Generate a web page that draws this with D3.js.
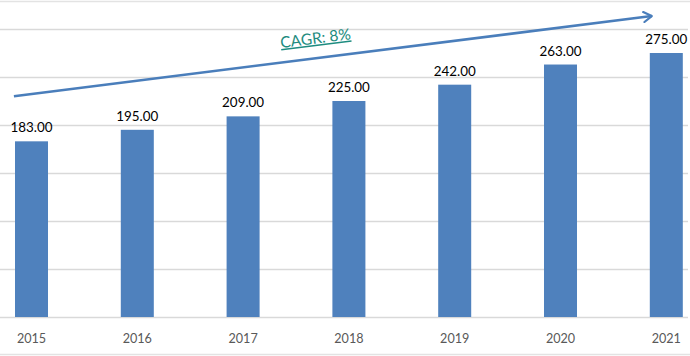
<!DOCTYPE html>
<html>
<head>
<meta charset="utf-8">
<script src="https://cdn.jsdelivr.net/npm/d3@7"></script>
<style>
  html, body { margin: 0; padding: 0; background: #fff; }
  svg { display: block; }
</style>
</head>
<body>
<svg id="chart" width="690" height="356"></svg>
<script>
const years = ["2015", "2016", "2017", "2018", "2019", "2020", "2021"];
const values = [183, 195, 209, 225, 242, 263, 275];
const gridTicks = [0, 50, 100, 150, 200, 250, 300];
const cagrLabel = "CAGR: 8%";
// trend arrow annotation endpoints, in data space (category, offset in steps from bar centre, value)
const arrowStart = { idx: 0, offset: -0.166, value: 230 };
const arrowEnd = { idx: 6, offset: -0.128, value: 313.5 };

const W = 690, H = 356;
const svg = d3.select("#chart");

const x = d3.scaleBand()
  .domain(years)
  .range([-21.4, 719.2])
  .paddingInner(0.688)
  .paddingOuter(0.344);

const y = d3.scaleLinear().domain([0, 300]).range([317, 29]);

const gridColor = "#D9D9D9";

// frame lines
svg.append("line").attr("x1", 0).attr("x2", W).attr("y1", 1.5).attr("y2", 1.5)
  .attr("stroke", "#E3E3E3").attr("stroke-width", 1.5);
svg.append("line").attr("x1", 0).attr("x2", W).attr("y1", 354.5).attr("y2", 354.5)
  .attr("stroke", "#E3E3E3").attr("stroke-width", 1.5);

// gridlines
svg.append("g").selectAll("line").data(gridTicks).join("line")
  .attr("x1", 0).attr("x2", 688)
  .attr("y1", d => Math.round(y(d)) + 0.5)
  .attr("y2", d => Math.round(y(d)) + 0.5)
  .attr("stroke", gridColor).attr("stroke-width", 1.3);

// bars
svg.append("g").selectAll("rect").data(values).join("rect")
  .attr("x", (d, i) => x(years[i]))
  .attr("width", x.bandwidth())
  .attr("y", d => y(d))
  .attr("height", d => y(0) - y(d))
  .attr("fill", "#4F81BD");

// value labels
svg.append("g").selectAll("text").data(values).join("text")
  .attr("x", (d, i) => x(years[i]) + x.bandwidth() / 2)
  .attr("y", d => y(d) - 9)
  .attr("text-anchor", "middle")
  .attr("font-family", "Lato, 'Open Sans', sans-serif")
  .attr("font-size", 13.4)
  .attr("fill", "#000")
  .text(d => d.toFixed(2));

// x axis labels
const xAxis = d3.axisBottom(x).tickSize(0).tickPadding(0);
const gx = svg.append("g").attr("transform", `translate(0,${y(0) + 26})`).call(xAxis);
gx.select(".domain").remove();
gx.selectAll("text")
  .attr("dy", 0).attr("y", 0)
  .attr("font-family", "Lato, 'Open Sans', sans-serif")
  .attr("font-size", 12.6)
  .attr("fill", "#595959");

// trend arrow
const cx = i => x(years[i]) + x.bandwidth() / 2;
const ax0 = cx(arrowStart.idx) + x.step() * arrowStart.offset;
const ay0 = y(arrowStart.value);
const ax1 = cx(arrowEnd.idx) + x.step() * arrowEnd.offset;
const ay1 = y(arrowEnd.value);

const defs = svg.append("defs");
defs.append("marker")
  .attr("id", "arrowhead")
  .attr("viewBox", "-10 -6 12 12")
  .attr("refX", 0).attr("refY", 0)
  .attr("markerWidth", 12).attr("markerHeight", 12)
  .attr("markerUnits", "userSpaceOnUse")
  .attr("orient", "auto")
  .append("path")
  .attr("d", "M-8,-5 L0,0 L-8,5")
  .attr("fill", "none")
  .attr("stroke", "#4A7EBB")
  .attr("stroke-width", 2.2)
  .attr("stroke-linecap", "round")
  .attr("stroke-linejoin", "round");

svg.append("line")
  .attr("x1", ax0).attr("y1", ay0)
  .attr("x2", ax1 - 1).attr("y2", ay1)
  .attr("stroke", "#4A7EBB")
  .attr("stroke-width", 2.6)
  .attr("marker-end", "url(#arrowhead)");

// CAGR label along the arrow
const angle = Math.atan2(ay1 - ay0, ax1 - ax0) * 180 / Math.PI;
const lx = 281, ly = 48;
svg.append("text")
  .attr("transform", `translate(${lx},${ly}) rotate(${angle})`)
  .attr("font-family", "Lato, 'Open Sans', sans-serif")
  .attr("font-size", 15.5)
  .attr("fill", "#1E8C80")
  .attr("text-decoration", "underline")
  .text(cagrLabel);
</script>
</body>
</html>
